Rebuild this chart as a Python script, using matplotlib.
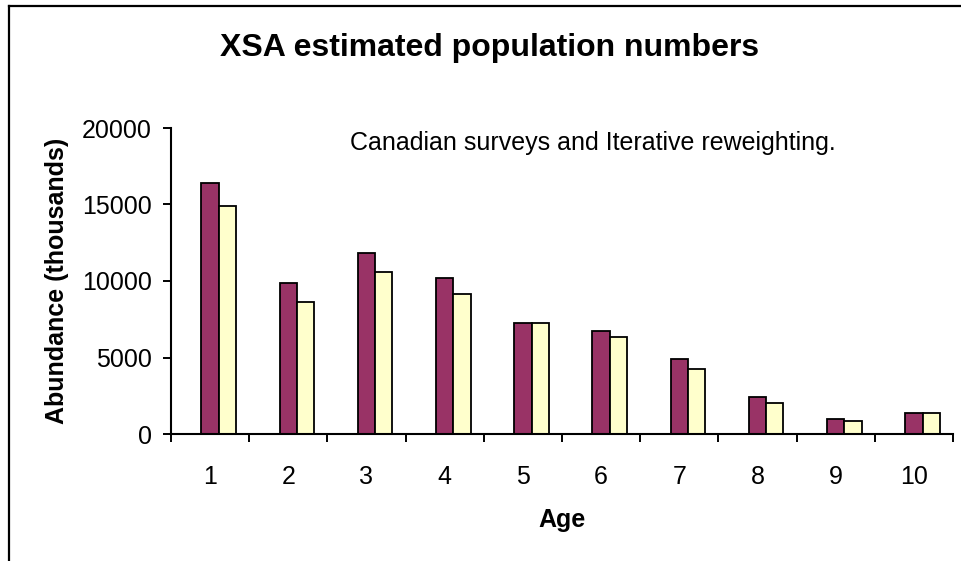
"""XSA estimated population numbers by age, two runs side by side."""

import matplotlib

matplotlib.use("Agg")

import matplotlib.pyplot as plt
import numpy as np
from matplotlib.lines import Line2D

plt.rcParams["font.family"] = ["Liberation Sans", "DejaVu Sans"]

ages = [1, 2, 3, 4, 5, 6, 7, 8, 9, 10]
run_a = [16400, 9900, 11800, 10200, 7250, 6750, 4900, 2400, 970, 1390]
run_b = [14900, 8650, 10600, 9150, 7250, 6350, 4250, 2050, 870, 1390]
y_ticks = [0, 5000, 10000, 15000, 20000]

MAROON = "#993366"
CREAM = "#FFFFCC"


def main() -> None:
    fig = plt.figure(figsize=(9.61, 5.61), dpi=100)
    ax = fig.add_axes([171 / 961, 1 - 434 / 561, 782 / 961, 306 / 561])

    x = np.array(ages, dtype=float)
    width = 0.22
    ax.bar(x, run_a, width=width, color=MAROON, edgecolor="black", linewidth=1.3, zorder=3)
    ax.bar(x + width, run_b, width=width, color=CREAM, edgecolor="black", linewidth=1.3, zorder=3)

    ax.set_xlim(0.5, 10.5)
    ax.set_ylim(0, 20000)
    ax.set_yticks(y_ticks)
    ax.set_yticklabels([str(v) for v in y_ticks], fontsize=18)
    ax.set_xticks(ages)
    ax.set_xticklabels([str(a) for a in ages], fontsize=18)
    ax.set_xticks(np.arange(0.5, 11.0, 1.0), minor=True)

    ax.tick_params(axis="y", direction="out", length=6, width=1.4, pad=8)
    ax.tick_params(axis="x", which="major", length=0, pad=22)
    ax.tick_params(axis="x", which="minor", direction="out", length=5.5, width=1.4)

    for side in ("top", "right"):
        ax.spines[side].set_visible(False)
    for side in ("left", "bottom"):
        ax.spines[side].set_linewidth(1.5)
        ax.spines[side].set_zorder(4)

    fig.text(490 / 961, 1 - 48 / 561, "XSA estimated population numbers",
             ha="center", va="center", fontsize=23, fontweight="bold")
    fig.text(350 / 961, 1 - 150 / 561, "Canadian surveys and Iterative reweighting.",
             ha="left", va="baseline", fontsize=18)
    fig.text(57 / 961, 1 - 281 / 561, "Abundance (thousands)", rotation=90,
             ha="center", va="center", fontsize=18, fontweight="bold")
    fig.text(562 / 961, 1 - 520 / 561, "Age",
             ha="center", va="center", fontsize=18, fontweight="bold")

    # chart border, running off the right and bottom edges
    top_y = 1 - 6 / 561
    left_x = 9 / 961
    fig.add_artist(Line2D([left_x, 1.0], [top_y, top_y], color="black", linewidth=1.6))
    fig.add_artist(Line2D([left_x, left_x], [top_y, 0.0], color="black", linewidth=1.6))

    fig.savefig("out.png", dpi=100)
    plt.close(fig)


if __name__ == "__main__":
    main()
